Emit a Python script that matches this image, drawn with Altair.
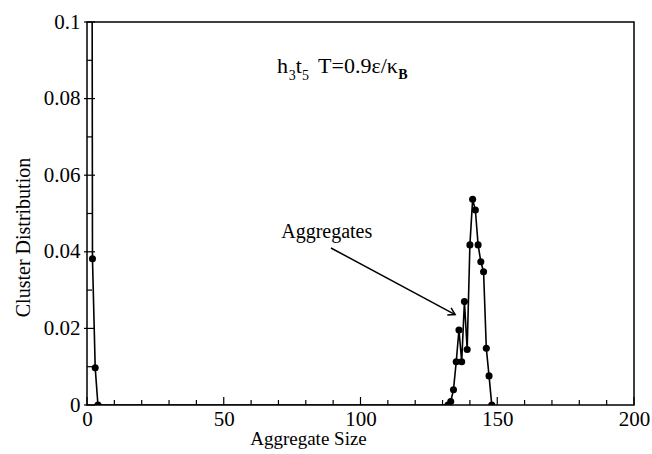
import math
import altair as alt
import pandas as pd

# ---- data ----
sizes = [1, 2, 3, 4, 132, 133, 134, 135, 136, 137, 138, 139, 140, 141, 142, 143, 144, 145, 146, 147, 148]
dist = [0.60, 0.0382, 0.0097, 0.0, 0.0, 0.0009, 0.0040, 0.0113, 0.0196, 0.0113, 0.0270, 0.0145,
        0.0418, 0.0537, 0.0509, 0.0418, 0.0374, 0.0348, 0.0148, 0.0076, 0.0]

x_major = [0, 50, 100, 150, 200]
x_minor = [10, 20, 30, 40, 60, 70, 80, 90, 110, 120, 130, 140, 160, 170, 180, 190]
y_major = [0, 0.02, 0.04, 0.06, 0.08, 0.1]
y_minor = [0.01, 0.03, 0.05, 0.07, 0.09]

# annotation pieces (data coordinates)
label_text = ["h", "3", "t", "5", "T=0.9ε/κ"]
label_x = [69.5, 73.8, 76.3, 78.6, 84.5]
label_y = [0.0866, 0.0848, 0.0866, 0.0848, 0.0866]
label_size = [22, 14, 22, 14, 22]
bold_text = ["B"]
bold_x = [113.8]
bold_y = [0.0850]

agg_text = ["Aggregates"]
agg_x = [71.0]
agg_y = [0.0453]
arrow_x = [89.2, 134.6]
arrow_y = [0.0410, 0.0236]

W, H = 547, 383
XMAX, YMAX = 200, 0.1
FONT = "Liberation Serif"

xs = alt.Scale(domain=[0, XMAX], nice=False)
ys = alt.Scale(domain=[0, YMAX], nice=False)

df = pd.DataFrame({"size": sizes, "dist": dist})

base = alt.Chart(df)

line = base.mark_line(color="black", strokeWidth=1.6, clip=True).encode(
    x=alt.X("size:Q", scale=xs,
            axis=alt.Axis(values=x_major, title="Aggregate Size", ticks=False, domain=False,
                          grid=False, labelFont=FONT, labelFontSize=21, labelColor="black",
                          labelPadding=3, titleFont=FONT, titleFontSize=19,
                          titleFontWeight="normal", titleColor="black", titlePadding=0,
                          titleX=221, labelFlush=False, labelOverlap=False)),
    y=alt.Y("dist:Q", scale=ys,
            axis=alt.Axis(values=y_major, title="Cluster Distribution", ticks=False, domain=False,
                          grid=False, labelFont=FONT, labelFontSize=21, labelColor="black",
                          labelPadding=7, titleFont=FONT, titleFontSize=20,
                          titleFontWeight="normal", titleColor="black", titlePadding=10,
                          titleY=215, labelFlush=False, labelOverlap=False,
                          format="~g")),
)
points = base.mark_point(filled=True, color="black", size=50, opacity=1, clip=True).encode(
    x=alt.X("size:Q", scale=xs), y=alt.Y("dist:Q", scale=ys)
)

# inward ticks
xmaj = alt.Chart(pd.DataFrame({"v": x_major})).mark_rule(color="black", strokeWidth=1.2).encode(
    x=alt.X("v:Q", scale=xs), y=alt.value(H), y2=alt.value(H - 8))
xmin = alt.Chart(pd.DataFrame({"v": x_minor})).mark_rule(color="black", strokeWidth=1.2).encode(
    x=alt.X("v:Q", scale=xs), y=alt.value(H), y2=alt.value(H - 5))
ymaj = alt.Chart(pd.DataFrame({"v": y_major})).mark_rule(color="black", strokeWidth=1.2).encode(
    y=alt.Y("v:Q", scale=ys), x=alt.value(-3), x2=alt.value(8))
ymin = alt.Chart(pd.DataFrame({"v": y_minor})).mark_rule(color="black", strokeWidth=1.2).encode(
    y=alt.Y("v:Q", scale=ys), x=alt.value(0), x2=alt.value(5))

ann = alt.Chart(pd.DataFrame({"t": label_text, "x": label_x, "y": label_y,
                              "s": label_size})).mark_text(
    font=FONT, align="left", baseline="alphabetic", color="black").encode(
    x=alt.X("x:Q", scale=xs), y=alt.Y("y:Q", scale=ys), text="t:N",
    size=alt.Size("s:Q", scale=None, legend=None),
)
ann_b = alt.Chart(pd.DataFrame({"t": bold_text, "x": bold_x, "y": bold_y})).mark_text(
    font=FONT, fontSize=14, fontWeight="bold", align="left", baseline="alphabetic",
    color="black").encode(
    x=alt.X("x:Q", scale=xs), y=alt.Y("y:Q", scale=ys), text="t:N")

agg = alt.Chart(pd.DataFrame({"t": agg_text, "x": agg_x, "y": agg_y})).mark_text(
    font=FONT, fontSize=20, align="left", baseline="middle", color="black").encode(
    x=alt.X("x:Q", scale=xs), y=alt.Y("y:Q", scale=ys), text="t:N")

arr_df = pd.DataFrame({"x": arrow_x, "y": arrow_y, "o": [0, 1]})
arrow_line = alt.Chart(arr_df).mark_line(color="black", strokeWidth=1.5).encode(
    x=alt.X("x:Q", scale=xs), y=alt.Y("y:Q", scale=ys), order="o:Q")

dxp = (arrow_x[1] - arrow_x[0]) * W / XMAX
dyp = (arrow_y[0] - arrow_y[1]) * H / YMAX
ang = math.degrees(math.atan2(dyp, dxp))
head = alt.Chart(arr_df.iloc[[1]]).mark_point(
    shape="M-1,-0.6 L0,0 L-1,0.6", filled=False, color="black", strokeWidth=1.5,
    size=180, angle=ang, opacity=1).encode(
    x=alt.X("x:Q", scale=xs), y=alt.Y("y:Q", scale=ys))

chart = alt.layer(line, points, xmaj, xmin, ymaj, ymin, ann, ann_b, agg, arrow_line, head).properties(
    width=W, height=H,
    autosize="none",
    padding={"left": 87, "top": 22, "right": 18, "bottom": 49},
    background="white",
).configure_view(stroke="black", strokeWidth=1.5).configure_axis(
    labelFont=FONT, titleFont=FONT)

chart.save("out.html", embed_options={"renderer": "svg", "actions": False})
